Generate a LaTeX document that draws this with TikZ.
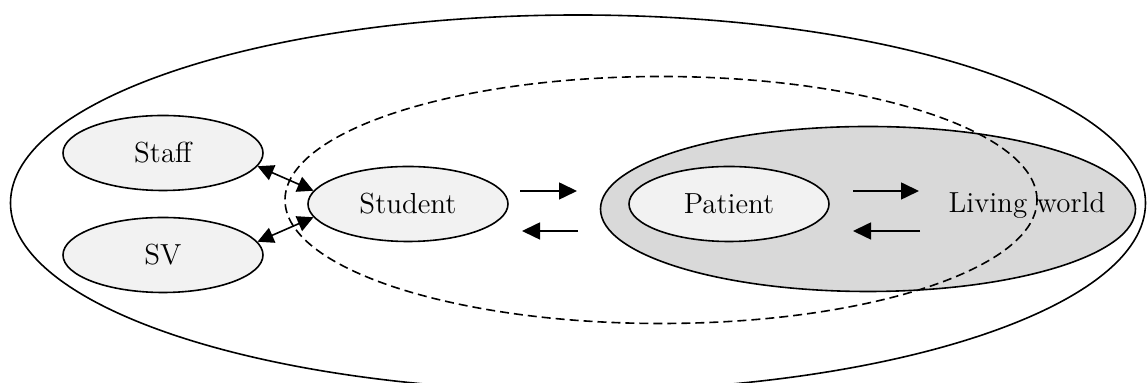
\documentclass[tikz,border=0pt]{standalone}
\usetikzlibrary{shapes.geometric,arrows.meta}
\begin{document}
\begin{tikzpicture}[x=0.5pt,y=-0.5pt,
  every node/.style={font=\fontsize{14.5}{17}\selectfont},
  region/.style={ellipse, draw, line width=0.8pt, inner sep=0pt},
  small/.style={region, fill=black!5, minimum width=100pt, minimum height=37.5pt},
  arr/.style={-{Triangle[length=9pt,width=8.5pt]}, line width=0.8pt},
  darr/.style={{Triangle[length=8pt,width=8pt]}-{Triangle[length=8pt,width=8pt]}, line width=0.8pt}]
\useasboundingbox (0,0) rectangle (1147,383);
\clip (0,0) rectangle (1147,383);
% outer world
\node[region, minimum width=567.5pt, minimum height=188pt] (world) at (578,203) {};
% living world region
\node[region, fill=black!15, minimum width=267.5pt, minimum height=82.5pt] (living) at (868,209) {};
\node (lwtext) at (1027,205) {Living world};
% dashed region
\node[region, dashed, dash pattern=on 4.5pt off 2.5pt, minimum width=376pt, minimum height=123.5pt] (univ) at (661,200) {};
% actors
\node[small] (staff) at (163,153) {Staff};
\node[small] (sv) at (163,255) {SV};
\node[small] (student) at (408,204) {Student};
\node[small] (patient) at (729,204) {Patient};
% double arrows
\draw[darr] (staff.-8) -- (student.172);
\draw[darr] (sv.8) -- (student.-172);
% horizontal arrows
\coordinate (a1s) at (520,191); \coordinate (a1e) at (577,191);
\coordinate (a2s) at (578,231); \coordinate (a2e) at (522,231);
\coordinate (b1s) at (853,191); \coordinate (b1e) at (919,191);
\coordinate (b2s) at (920,231); \coordinate (b2e) at (853,231);
\draw[arr] (a1s) -- (a1e);
\draw[arr] (a2s) -- (a2e);
\draw[arr] (b1s) -- (b1e);
\draw[arr] (b2s) -- (b2e);
\end{tikzpicture}
\end{document}
